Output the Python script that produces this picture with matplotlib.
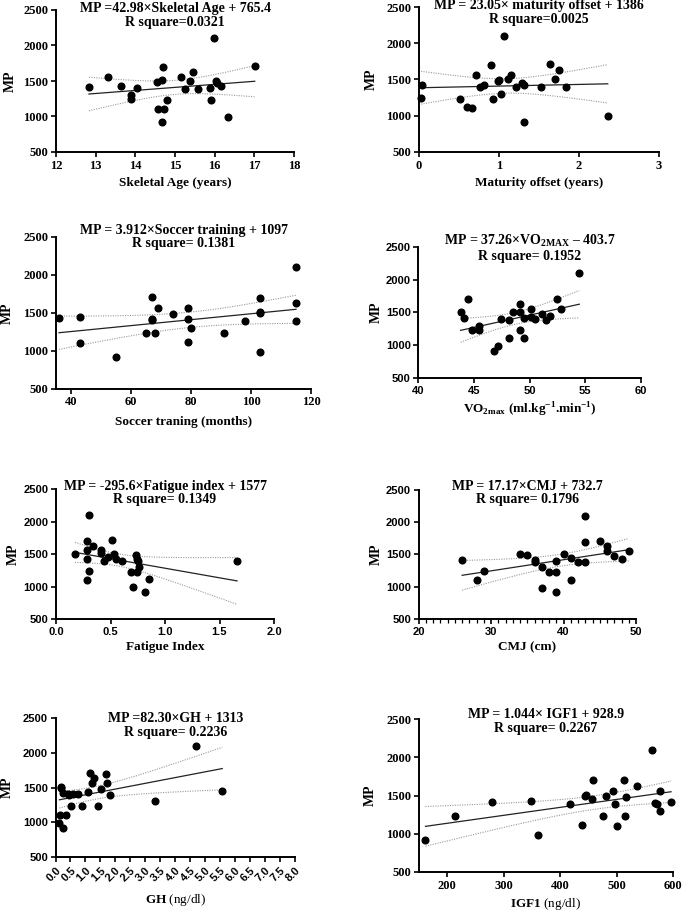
import numpy as np
import matplotlib
matplotlib.use('Agg')
import matplotlib.pyplot as plt
from matplotlib.ticker import MultipleLocator

plt.rcParams['mathtext.fontset'] = 'custom'
plt.rcParams['mathtext.rm'] = 'Liberation Serif'
plt.rcParams['mathtext.bf'] = 'Liberation Serif:bold'

SERIF = 'Liberation Serif'
SANS = 'Liberation Sans'

# ---- data (MP = muscle power) ----
skeletal_age = [12.83, 13.31, 13.63, 13.89, 13.89, 14.03, 14.55, 14.66, 14.70, 14.57, 14.72, 14.79, 14.68,
                15.14, 15.45, 15.38, 15.25, 15.57, 15.88, 15.92, 15.98, 16.03, 16.07, 16.17, 16.33, 17.01]
mp_skeletal = [1420, 1560, 1430, 1300, 1250, 1400, 1480, 1510, 1700, 1110, 1100, 1230, 920,
               1560, 1630, 1500, 1390, 1390, 1400, 1230, 2100, 1500, 1470, 1430, 990, 1710]

maturity_offset = [0.03, 0.04, 0.52, 0.60, 0.66, 0.72, 0.76, 0.81, 0.90, 0.93, 0.99, 1.00, 1.03,
                   1.06, 1.11, 1.15, 1.21, 1.29, 1.31, 1.32, 1.53, 1.64, 1.70, 1.75, 1.84, 2.36]
mp_maturity = [1240, 1420, 1230, 1120, 1110, 1560, 1390, 1420, 1700, 1230, 1480, 1490, 1300,
               2100, 1510, 1560, 1400, 1450, 1430, 920, 1390, 1710, 1500, 1630, 1400, 990]

soccer_months = [36, 43, 43, 55, 65, 67, 67, 67, 68, 69, 74, 79, 79, 79, 80, 91, 98,
                 103, 103, 103, 103, 115, 115, 115]
mp_soccer = [1430, 1450, 1100, 920, 1230, 1710, 1420, 1400, 1230, 1560, 1480, 1560, 1420, 1110, 1300, 1240, 1390,
             1700, 1510, 1500, 990, 2100, 1630, 1390]

vo2max = [43.81, 44.14, 44.44, 44.80, 45.46, 45.46, 46.78, 47.17, 47.47, 48.13, 48.13, 48.49, 49.18,
          49.18, 49.18, 49.48, 49.48, 50.16, 50.16, 50.49, 51.15, 51.48, 51.84, 52.50, 52.83, 54.48]
mp_vo2 = [1500, 1420, 1710, 1230, 1300, 1230, 920, 990, 1400, 1390, 1110, 1510, 1630,
          1500, 1240, 1420, 1110, 1560, 1430, 1400, 1480, 1390, 1450, 1700, 1560, 2100]

fatigue_index = [0.174, 0.30, 0.281, 0.287, 0.281, 0.306, 0.287, 0.336, 0.413, 0.41, 0.443, 0.48, 0.511,
                 0.532, 0.547, 0.608, 0.688, 0.709, 0.731, 0.74, 0.746, 0.765, 0.75, 0.813, 0.853, 1.661]
mp_fatigue = [1500, 2100, 1700, 1560, 1420, 1240, 1100, 1630, 1560, 1510, 1390, 1450, 1710,
              1500, 1420, 1390, 1230, 990, 1480, 1430, 1230, 1300, 1400, 920, 1110, 1400]

cmj = [26, 28, 29, 34, 35, 36, 36, 37, 37, 38, 39, 39, 39, 40, 41, 41, 42, 43, 43, 43,
       45, 46, 46, 47, 48, 49]
mp_cmj = [1420, 1100, 1240, 1510, 1490, 1420, 1390, 1300, 990, 1230, 1400, 1230, 920, 1500, 1450, 1110, 1390,
          2100, 1700, 1390, 1710, 1630, 1560, 1480, 1430, 1560]

gh = [0.17, 0.20, 0.26, 0.43, 0.45, 0.59, 0.76, 1.07, 1.15, 1.29, 1.21, 1.68, 1.73, 1.82, 0.52, 0.87, 1.43,
      0.35, 0.15, 0.13, 0.24, 1.52, 3.32, 4.68, 5.57]
mp_gh = [1510, 1500, 1420, 1400, 1390, 1400, 1400, 1430, 1710, 1630, 1560, 1700, 1560, 1390, 1230, 1230, 1240,
         1110, 1100, 990, 920, 1480, 1300, 2100, 1450]

igf1 = [162, 215, 280, 348, 361, 418, 438, 444, 445, 457, 458, 475, 481, 494, 497, 500, 513, 514,
        516, 536, 563, 568, 572, 576, 577, 596]
mp_igf1 = [920, 1240, 1420, 1430, 990, 1390, 1110, 1500, 1510, 1450, 1710, 1230, 1490, 1560, 1390, 1100, 1700,
           1230, 1480, 1630, 2100, 1400, 1390, 1560, 1300, 1420]

# regression results printed on the figure
slopes = [42.98, 23.05, 3.912, 37.26, -295.6, 17.17, 82.30, 1.044]
intercepts = [765.4, 1386, 1097, -403.7, 1577, 732.7, 1313, 928.9]

titles = [
    'MP =42.98\u00d7Skeletal Age + 765.4\nR square=0.0321',
    'MP = 23.05\u00d7 maturity offset + 1386\nR square=0.0025',
    'MP = 3.912\u00d7Soccer training + 1097\nR square= 0.1381',
    'MP = 37.26\u00d7VO$_{\\mathbf{2MAX}}$ \u2013 403.7\nR square= 0.1952',
    'MP = -295.6\u00d7Fatigue index + 1577\nR square= 0.1349',
    'MP = 17.17\u00d7CMJ + 732.7\nR square= 0.1796',
    'MP =82.30\u00d7GH + 1313\nR square= 0.2236',
    'MP = 1.044\u00d7 IGF1 + 928.9\nR square= 0.2267',
]
xlabels = [
    'Skeletal Age (years)',
    'Maturity offset (years)',
    'Soccer traning (months)',
    'VO$_{\\mathbf{2max}}$ (ml.kg$^{\\mathbf{-1}}$.min$^{\\mathbf{-1}}$)',
    'Fatigue Index',
    'CMJ (cm)',
    '$\\mathbf{GH}$ (ng/dl)',
    '$\\mathbf{IGF1}$ (ng/dl)',
]
xlims = [(12, 18), (0, 3), (35, 120), (40, 60), (0, 2), (20, 50), (0, 8), (150, 600)]
xsteps = [1, 1, 20, 5, 0.5, 10, 0.5, 100]

xs_all = [skeletal_age, maturity_offset, soccer_months, vo2max, fatigue_index, cmj, gh, igf1]
ys_all = [mp_skeletal, mp_maturity, mp_soccer, mp_vo2, mp_fatigue, mp_cmj, mp_gh, mp_igf1]

# layout in pixels: left, right, top, bottom of each axes
boxes = [(56, 294, 10, 152), (418.7, 659, 7, 152),
         (56, 311, 237, 388.7), (418.3, 640.7, 246.7, 378.3),
         (56, 274, 489, 619), (418.7, 636, 489.7, 619.3),
         (55.5, 295, 717.7, 857.3), (418.7, 673.3, 719.3, 872)]
title_y = [15.5, 12.3, 237, 247.7, 492.8, 492.8, 725.3, 721.3]
xlabel_y = [182.7, 182.7, 421.7, 410, 646.7, 647, 900, 904]
ylabel_x = [10, 371.7, 7, 376, 13, 376, 7, 370]
tick_font = [SERIF, SERIF, SERIF, SANS, SANS, SANS, SANS, SERIF]

W, H = 685, 913
T_CRIT = 2.064  # t(0.975, df=24)


def band(x, y, slope, intercept, xs):
    """95% confidence band of the regression line."""
    x = np.asarray(x, float)
    y = np.asarray(y, float)
    n = len(x)
    resid = y - (slope * x + intercept)
    s = np.sqrt(np.sum(resid ** 2) / (n - 2))
    sxx = np.sum((x - x.mean()) ** 2)
    se = s * np.sqrt(1.0 / n + (xs - x.mean()) ** 2 / sxx)
    yhat = slope * xs + intercept
    return yhat - T_CRIT * se, yhat + T_CRIT * se


fig = plt.figure(figsize=(W / 100, H / 100), dpi=100)

for i in range(8):
    l, r, t, b = boxes[i]
    ax = fig.add_axes([l / W, 1 - b / H, (r - l) / W, (b - t) / H])
    x = np.asarray(xs_all[i], float)
    y = np.asarray(ys_all[i], float)

    xs = np.linspace(x.min(), x.max(), 100)
    lo, hi = band(x, y, slopes[i], intercepts[i], xs)
    ax.plot(xs, slopes[i] * xs + intercepts[i], color='#222222', lw=0.9, zorder=2)
    ax.plot(xs, lo, color='#999999', lw=0.8, ls=(0, (1, 1.2)), zorder=1)
    ax.plot(xs, hi, color='#999999', lw=0.8, ls=(0, (1, 1.2)), zorder=1)
    ax.plot(x, y, 'o', color='black', ms=4.8, zorder=3, clip_on=False)

    ax.set_xlim(*xlims[i])
    ax.set_ylim(500, 2500)
    ax.xaxis.set_major_locator(MultipleLocator(xsteps[i]))
    ax.yaxis.set_major_locator(MultipleLocator(500))
    if i == 5:
        ax.xaxis.set_minor_locator(MultipleLocator(1))
        ax.tick_params(axis='x', which='minor', length=3, width=0.9)
    if i in (4, 6):
        ax.xaxis.set_major_formatter(matplotlib.ticker.FormatStrFormatter('%.1f'))

    for sp in ('top', 'right'):
        ax.spines[sp].set_visible(False)
    for sp in ('left', 'bottom'):
        ax.spines[sp].set_linewidth(1.4)
    ax.tick_params(which='major', direction='out', length=3.5, width=1.2, pad=2)

    fsize = 9 if tick_font[i] == SERIF else 8
    for lab in ax.get_xticklabels() + ax.get_yticklabels():
        lab.set_fontfamily(tick_font[i])
        lab.set_fontweight('bold')
        lab.set_fontsize(fsize)
    if i == 6:
        for lab in ax.get_xticklabels():
            lab.set_rotation(45)
            lab.set_ha('right')
            lab.set_va('top')
            lab.set_rotation_mode('anchor')

    # labels
    weight = 'normal' if i in (6, 7) else 'bold'
    ax.set_xlabel(xlabels[i], fontfamily=SERIF, fontweight=weight, fontsize=9.5)
    ax.xaxis.set_label_coords((l + r) / 2 / W, 1 - xlabel_y[i] / H, transform=fig.transFigure)
    ax.xaxis.label.set_va('center')
    ax.set_ylabel('MP', fontfamily=SERIF, fontweight='bold', fontsize=10)
    ax.yaxis.set_label_coords(ylabel_x[i] / W, 1 - (t + b) / 2 / H, transform=fig.transFigure)
    ax.yaxis.label.set_va('center')

    fig.text((l + r) / 2 / W, 1 - title_y[i] / H, titles[i], ha='center', va='center',
             fontfamily=SERIF, fontweight='bold', fontsize=10, linespacing=1.05)

fig.savefig('out.png', dpi=100)
